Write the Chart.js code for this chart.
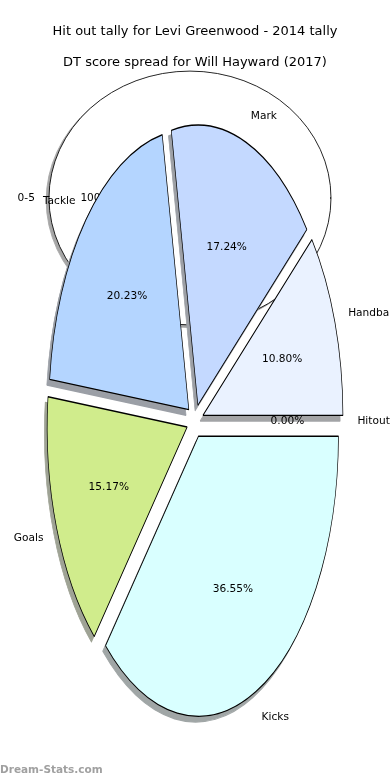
<!DOCTYPE html>
<html><head><meta charset="utf-8">
<script src="https://cdn.jsdelivr.net/npm/chart.js@4"></script>
<style>
html,body{margin:0;padding:0;background:#fff;width:390px;height:780px;overflow:hidden}
canvas{position:absolute;left:0;top:0}
#wm{position:absolute;left:0;top:763px;font:bold 10.5px 'DejaVu Sans',sans-serif;color:#a0a0a0;white-space:nowrap}
</style></head><body>
<canvas id="bg" width="390" height="780" style="width:390px;height:780px"></canvas>
<canvas id="fg" width="390" height="780" style="width:390px;height:780px"></canvas>
<div id="wm">Dream-Stats.com</div>
<script>
// ---- data ----
const hitoutTitle = 'Hit out tally for Levi Greenwood - 2014 tally';
const hitoutCategories = ['0-5'];
const hitoutPercent = [100];

const dtTitle = 'DT score spread for Will Hayward (2017)';
const dtCategories = ['Handball', 'Mark', 'Tackle', 'Goals', 'Kicks', 'Hitout'];
const dtPercent = [10.80, 17.24, 20.23, 15.17, 36.55, 0.00];

// ---- styles ----
const dtColors = ['#eaf2ff', '#c4d9ff', '#b4d5ff', '#d0ec8c', '#d9ffff', '#ffffff'];
const hitoutColors = ['#ffffff'];

function shadowOf(hex) {
  const n = parseInt(hex.slice(1), 16);
  const f = c => Math.round(0.15 * c + 127.5);
  return `rgb(${f(n >> 16 & 255)},${f(n >> 8 & 255)},${f(n & 255)})`;
}

const ellipsePie = {
  id: 'ellipsePie',
  beforeDatasetsDraw(chart, args, o) {
    const ctx = chart.ctx, arcs = chart.getDatasetMeta(0).data;
    const data = chart.data.datasets[0].data;
    const labels = chart.data.labels;
    const total = data.reduce((a, b) => a + b, 0);
    const cx = arcs[0].x, cy = arcs[0].y, OFF = 3000;
    const geo = el => {
      const mid = (el.startAngle + el.endAngle) / 2;
      const R = el.outerRadius;
      const c = Math.cos(mid), s = Math.sin(mid);
      return { c, s, R, dx: c * o.explode * R, dy: s * o.explode * R * o.ky };
    };
    const ell = () => { ctx.translate(cx, cy); ctx.scale(1, o.ky); ctx.translate(-cx, -cy); };
    // shadow pass
    arcs.forEach((el, i) => {
      if (!el.circumference) return;
      const g = geo(el);
      ctx.save();
      ctx.translate(-OFF + g.dx, g.dy);
      ell();
      ctx.shadowColor = o.shadowColors[i];
      ctx.shadowOffsetX = OFF + o.sdx;
      ctx.shadowOffsetY = o.sdy;
      ctx.shadowBlur = 0;
      el.draw(ctx);
      ctx.restore();
    });
    // wedges
    arcs.forEach(el => {
      if (!el.circumference) return;
      const g = geo(el);
      ctx.save();
      ctx.translate(g.dx, g.dy);
      ell();
      el.draw(ctx);
      ctx.restore();
    });
    // labels
    ctx.save();
    ctx.font = o.font;
    ctx.fillStyle = '#000';
    ctx.textBaseline = 'middle';
    arcs.forEach((el, i) => {
      const g = geo(el);
      const ex = cx + g.dx, ey = cy + g.dy;
      ctx.textAlign = g.c > 1e-9 ? 'left' : 'right';
      ctx.fillText(labels[i], ex + g.c * g.R * o.labelDist, ey + g.s * g.R * o.labelDist * o.ky);
      ctx.textAlign = 'center';
      ctx.fillText((data[i] / total * 100).toFixed(o.decimals) + '%',
        ex + g.c * g.R * o.pctDist, ey + g.s * g.R * o.pctDist * o.ky);
    });
    ctx.restore();
    return false;
  }
};

function makePie(id, title, titleTop, cats, vals, colors, cfg) {
  const labels = cats.slice().reverse();
  const data = vals.slice().reverse();
  const bgc = colors.slice().reverse();
  return new Chart(document.getElementById(id), {
    type: 'pie',
    data: {
      labels,
      datasets: [{
        data,
        backgroundColor: bgc,
        borderWidth: cfg.borderWidth,
        borderColor: cfg.ring ? (c => {
          const a = c.chart.chartArea;
          if (!a) return '#000';
          const x = (a.left + a.right) / 2, y = (a.top + a.bottom) / 2, R = cfg.radius;
          const g = c.chart.ctx.createRadialGradient(x, y, 0, x, y, R + 3);
          g.addColorStop(0, 'rgba(0,0,0,0)');
          g.addColorStop((R - 1.4) / (R + 3), 'rgba(0,0,0,0)');
          g.addColorStop((R - 0.9) / (R + 3), '#000');
          g.addColorStop(1, '#000');
          return g;
        }) : '#000',
        offset: 0,
        hoverOffset: 0,
        clip: false
      }]
    },
    options: {
      responsive: false,
      animation: false,
      events: [],
      rotation: 90,
      radius: cfg.radius,
      layout: { padding: cfg.padding },
      plugins: {
        legend: { display: false },
        tooltip: { enabled: false },
        title: {
          display: true, text: title, color: '#000',
          font: { family: 'DejaVu Sans', size: 13, weight: 'normal', lineHeight: 1.2 },
          padding: { top: titleTop, bottom: 0 }
        },
        ellipsePie: {
          ky: cfg.ky, sdx: cfg.sdx, sdy: cfg.sdy, explode: cfg.explode,
          labelDist: 1.1, pctDist: cfg.pctDist, decimals: cfg.decimals,
          font: '10.6px "DejaVu Sans"',
          shadowColors: bgc.map(shadowOf)
        }
      }
    },
    plugins: [ellipsePie]
  });
}

makePie('bg', hitoutTitle, 24.2, hitoutCategories, hitoutPercent, hitoutColors, {
  radius: 141, ky: 0.9, explode: 0.0355, sdx: -2.8, sdy: 2.5, pctDist: 0.67, decimals: 0,
  borderWidth: 0.9, ring: true, padding: { bottom: 423.8 }
});
makePie('fg', dtTitle, 55.2, dtCategories, dtPercent, dtColors, {
  radius: 140, ky: 2, explode: 0.06, sdx: -2.8, sdy: 5.6, pctDist: 0.6, decimals: 2,
  borderWidth: 0.7, ring: false, padding: { bottom: 8.8 }
});
</script>
</body></html>
